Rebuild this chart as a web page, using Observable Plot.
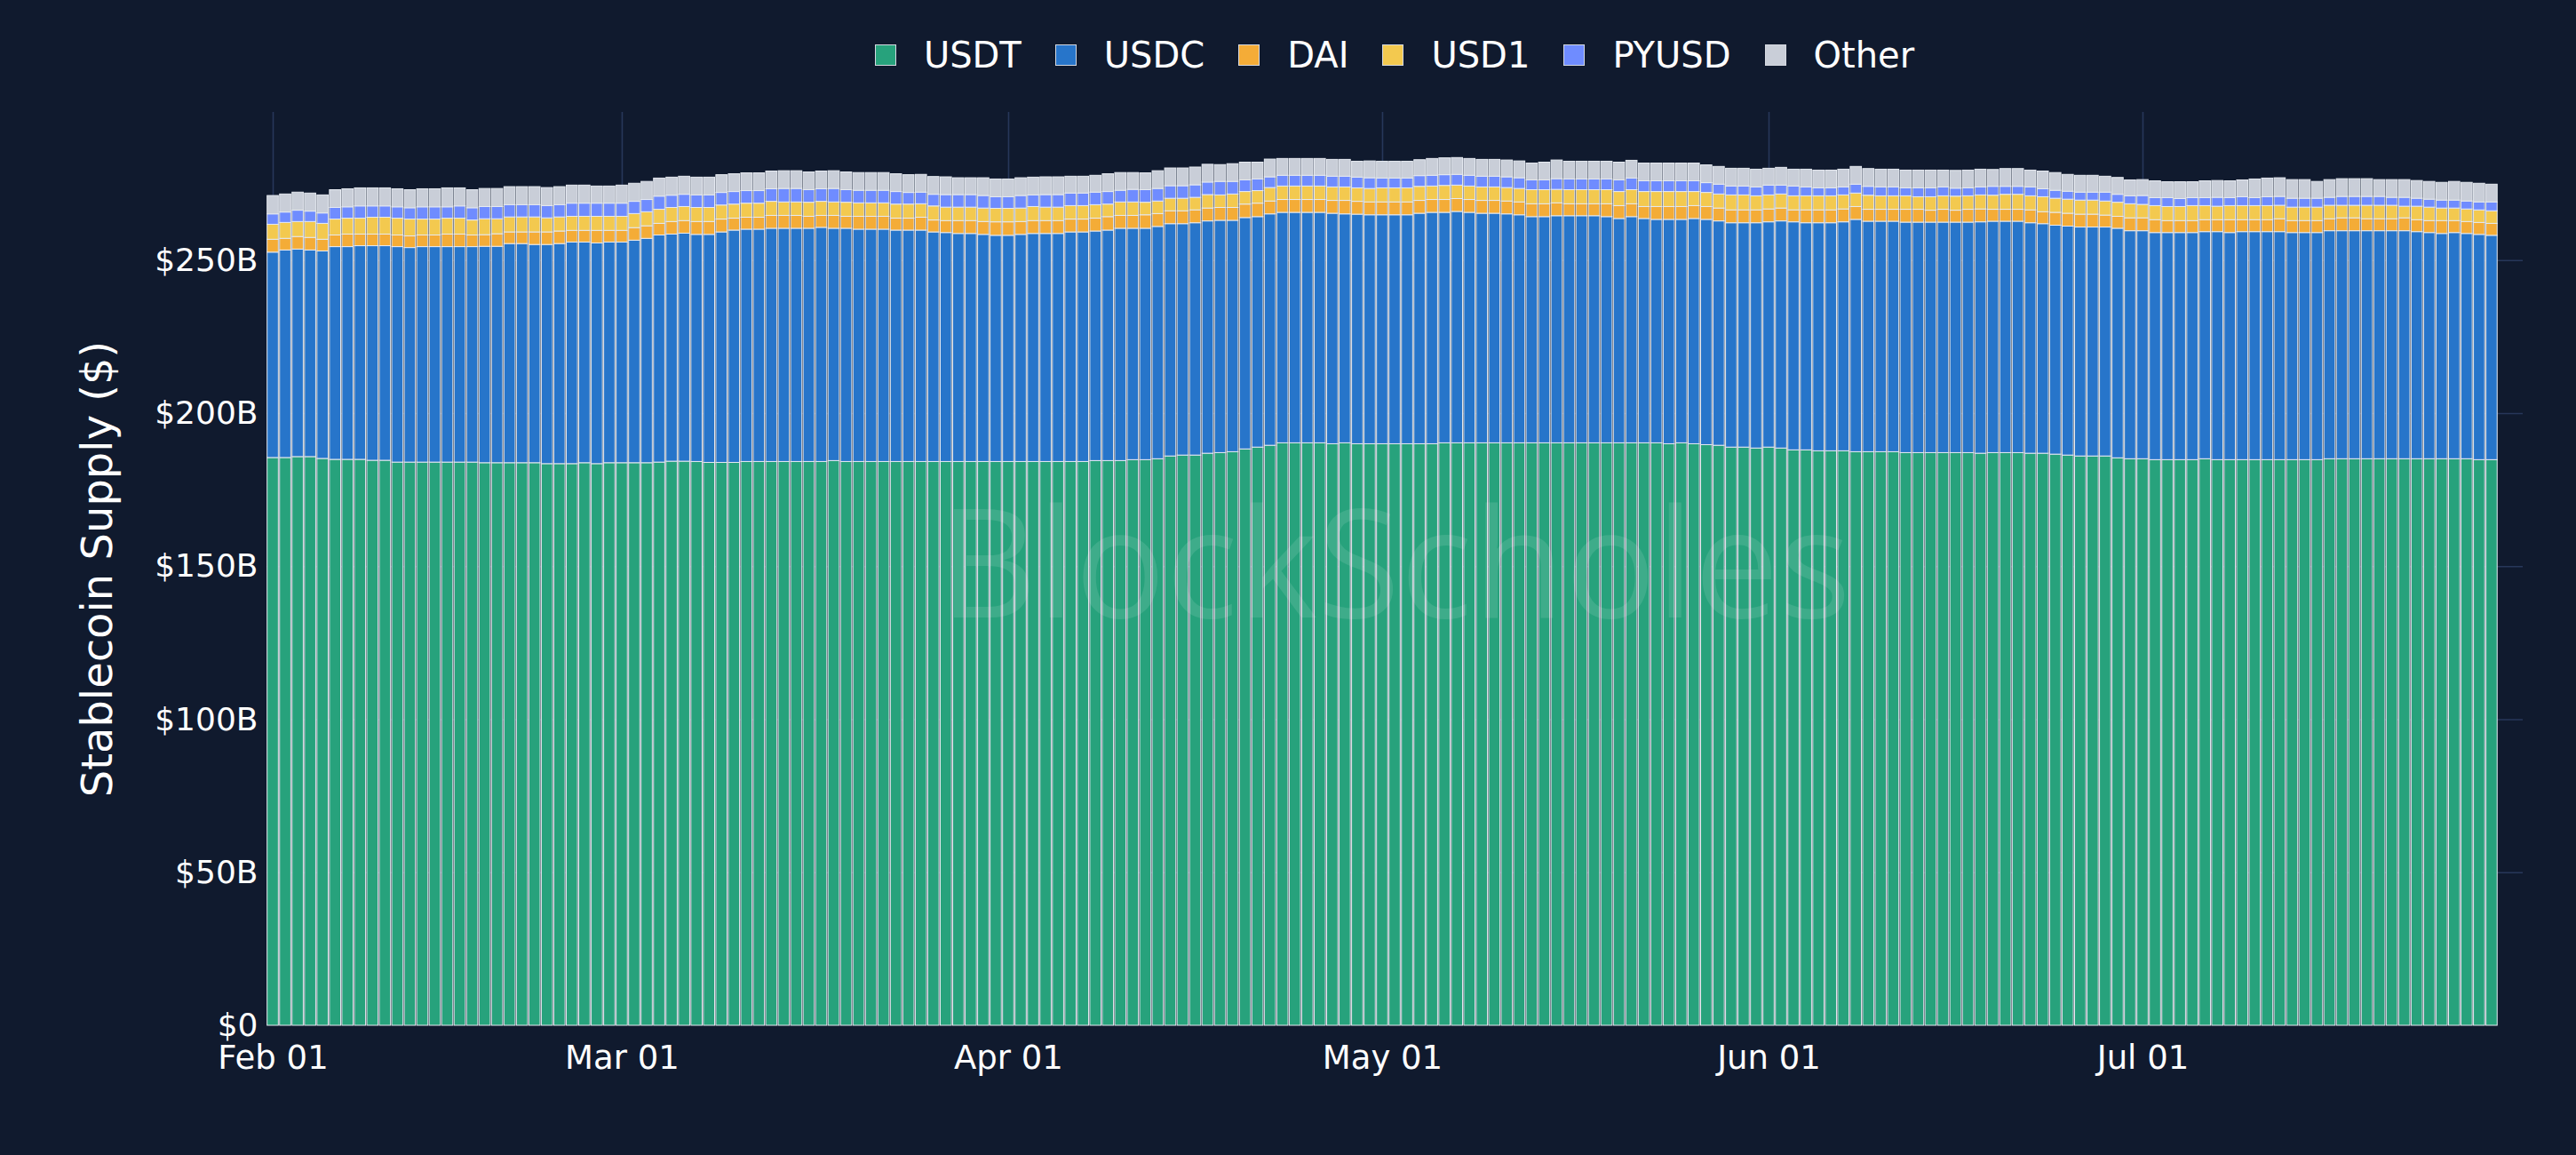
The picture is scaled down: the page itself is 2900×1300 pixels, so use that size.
<!DOCTYPE html>
<html>
<head>
<meta charset="utf-8">
<script src="https://cdn.jsdelivr.net/npm/d3@7"></script>
<script src="https://cdn.jsdelivr.net/npm/@observablehq/plot@0.6"></script>
<style>
  html, body { margin: 0; padding: 0; background: #101a2e; }
  #chart { position: relative; width: 2900px; height: 1300px; background: #101a2e; font-family: "DejaVu Sans", sans-serif; }
  #legend { position: absolute; left: 300px; top: 0; width: 2540px; height: 100px; padding-top: 24px; box-sizing: border-box;
            display: flex; justify-content: center; align-items: center; gap: 38px; }
  .item { display: flex; align-items: center; gap: 31px; color: #ffffff; font-size: 40px; line-height: 1; }
  .swatch { width: 22px; height: 22px; border: 1.5px solid #d5d9e1; }
  #plot { position: absolute; left: 0; top: 100px; }
</style>
</head>
<body>
<div id="chart">
  <div id="legend"></div>
  <div id="plot"></div>
</div>
<script>
// ---- data (billions of USD), one value per day, Feb 01 – Jul 29 2025 ----
const seriesNames = ["USDT", "USDC", "DAI", "USD1", "PYUSD", "Other"];
const seriesColors = ["#27a27c", "#2775ca", "#f4ac37", "#f3c94f", "#6f8cff", "#c9ced8"];
const startDay = "2025-02-01";
const endDayExclusive = "2025-07-30";

const usdt = [
185.5,185.5,185.8,185.8,185.2,184.9,184.9,184.9,184.6,184.6,
184.0,184.0,184.0,184.0,184.0,184.0,184.0,183.8,183.8,183.8,
183.8,183.8,183.5,183.5,183.5,183.8,183.5,183.8,183.8,183.8,
183.8,184.0,184.3,184.3,184.2,183.9,183.9,183.9,184.2,184.2,
184.2,184.2,184.2,184.2,184.2,184.5,184.2,184.2,184.2,184.2,
184.2,184.2,184.2,184.2,184.2,184.2,184.2,184.2,184.2,184.2,
184.2,184.2,184.2,184.2,184.2,184.2,184.5,184.5,184.5,184.8,
184.8,185.1,186.0,186.3,186.3,186.9,187.1,187.4,188.3,188.9,
189.5,190.3,190.3,190.3,190.3,190.0,190.3,190.0,190.0,190.0,
190.0,190.0,190.0,190.0,190.3,190.3,190.3,190.3,190.3,190.3,
190.3,190.3,190.3,190.3,190.3,190.3,190.3,190.3,190.3,190.3,
190.3,190.3,190.0,190.3,190.0,189.7,189.5,188.9,188.9,188.6,
188.9,188.6,188.0,188.0,187.7,187.7,187.7,187.4,187.4,187.4,
187.4,187.1,187.1,187.1,187.1,187.1,187.1,186.9,187.1,187.1,
187.1,186.9,186.9,186.6,186.3,186.0,186.0,186.0,185.4,185.1,
185.1,184.8,184.8,184.8,184.8,185.1,184.8,184.8,184.8,184.8,
184.8,184.8,184.8,184.8,184.8,185.1,185.1,185.1,185.1,185.1,
185.1,185.1,185.1,185.1,185.1,185.1,185.1,184.8,184.8];

const usdc = [
67.1,67.8,67.8,67.5,67.8,69.5,69.5,69.8,70.1,70.1,
70.4,70.1,70.4,70.4,70.4,70.4,70.4,70.7,70.7,71.6,
71.6,71.3,71.6,71.9,72.4,72.1,72.1,72.1,72.1,72.7,
73.3,74.2,74.2,74.5,74.2,74.5,75.3,75.9,75.9,75.9,
76.2,76.2,76.2,76.2,76.5,75.9,76.2,75.9,75.9,75.9,
75.6,75.6,75.6,75.0,74.8,74.5,74.5,74.2,73.9,73.9,
74.2,74.5,74.5,74.5,75.0,75.0,75.0,75.3,75.9,75.6,
75.6,75.9,75.9,75.6,75.9,75.9,75.9,75.6,75.6,75.3,
75.6,75.3,75.3,75.3,75.3,75.3,74.8,75.0,74.8,74.8,
74.8,74.8,75.3,75.6,75.3,75.6,75.3,75.0,75.0,74.8,
74.5,73.9,73.9,74.2,74.2,74.2,74.2,73.9,73.3,73.9,
73.3,73.0,73.3,73.0,73.6,73.6,73.3,73.3,73.3,73.6,
73.6,74.2,74.5,74.2,74.5,74.5,74.8,75.9,75.3,75.3,
75.3,75.3,75.3,75.3,75.3,75.3,75.3,75.6,75.6,75.6,
75.6,75.3,75.0,74.8,74.8,74.8,74.8,74.8,75.0,74.5,
74.5,74.2,74.2,74.2,74.2,74.2,74.5,74.2,74.5,74.5,
74.5,74.5,74.2,74.2,74.2,74.5,74.5,74.5,74.5,74.5,
74.5,74.5,74.2,73.9,73.6,73.9,73.6,73.6,73.3];

const dai = [
4.2,3.8,4.1,4.1,3.8,3.8,4.1,3.8,3.8,3.8,
3.8,3.8,3.8,3.8,4.1,4.1,3.8,3.8,4.1,3.8,
3.8,4.1,4.1,4.1,3.8,3.8,4.1,3.8,3.8,4.1,
4.1,3.8,4.1,4.1,4.2,4.2,4.2,3.9,3.9,3.9,
4.2,4.2,4.2,3.9,3.9,4.2,3.9,4.2,4.2,4.2,
3.9,3.9,4.2,3.9,3.9,4.2,4.2,4.2,4.4,4.4,
4.2,4.2,4.2,4.2,4.2,4.2,4.2,4.4,4.2,4.2,
4.4,4.2,4.2,4.2,4.2,4.2,4.2,4.2,4.4,4.4,
4.2,4.2,4.2,4.2,4.2,4.2,4.4,4.2,4.2,4.2,
4.2,4.2,4.2,4.2,4.2,4.2,4.2,4.2,4.2,4.2,
4.2,4.2,4.2,4.2,3.9,3.9,3.9,4.2,4.2,4.2,
3.9,4.2,4.2,4.2,4.2,4.2,4.2,4.2,4.2,4.2,
4.2,4.2,3.9,4.2,4.2,4.2,4.2,4.2,3.9,3.9,
3.9,4.2,4.2,3.9,4.2,3.9,4.2,4.2,3.9,3.9,
3.9,4.2,3.9,4.2,4.2,4.2,4.2,3.9,3.9,4.2,
4.2,4.2,3.9,3.9,3.9,3.9,3.9,4.2,3.9,3.9,
3.9,4.2,3.9,3.9,3.9,3.9,4.2,4.2,3.9,3.9,
3.9,4.2,3.9,3.9,4.2,3.9,3.9,3.9,3.9];

const usd1 = [
4.9,5.2,4.9,5.2,5.2,5.2,5.2,5.2,5.5,5.5,
5.5,5.5,5.2,5.2,5.2,5.2,4.9,5.2,4.9,4.9,
4.9,4.9,4.6,4.6,4.6,4.6,4.6,4.6,4.6,4.6,
4.6,4.6,4.6,4.6,4.6,4.6,4.6,4.6,4.6,4.6,
4.6,4.4,4.4,4.6,4.6,4.4,4.6,4.4,4.4,4.4,
4.6,4.6,4.4,4.6,4.4,4.4,4.4,4.4,4.4,4.4,
4.4,4.6,4.4,4.4,4.4,4.4,4.4,4.1,4.4,4.4,
4.1,4.1,4.1,4.1,4.1,4.4,4.1,4.4,4.1,4.1,
4.4,4.4,4.4,4.4,4.4,4.4,4.4,4.4,4.4,4.6,
4.6,4.6,4.6,4.4,4.6,4.4,4.4,4.4,4.4,4.4,
4.4,4.6,4.6,4.4,4.6,4.6,4.6,4.6,4.6,4.6,
4.9,4.9,4.9,4.9,4.6,4.6,4.6,4.9,4.9,4.6,
4.6,4.6,4.6,4.6,4.6,4.6,4.6,4.4,4.6,4.4,
4.4,4.4,4.1,4.4,4.4,4.6,4.4,4.6,4.6,4.9,
4.9,4.6,4.9,4.6,4.6,4.6,4.6,4.6,4.6,4.6,
4.4,4.6,4.6,4.6,4.9,4.6,4.4,4.6,4.6,4.6,
4.6,4.4,4.4,4.4,4.4,4.4,4.1,4.1,4.4,4.4,
4.4,3.8,4.4,4.4,4.1,4.1,4.1,4.1,4.1];

const pyusd = [
3.4,3.4,3.7,3.4,3.4,3.8,3.7,4.0,3.7,3.7,
3.7,3.7,4.0,4.0,3.7,4.0,4.0,4.0,4.0,4.0,
4.0,4.0,4.0,4.0,4.3,4.3,4.3,4.3,4.3,4.0,
4.0,4.3,4.0,4.0,4.1,4.1,4.1,4.1,4.1,4.1,
4.1,4.4,4.4,4.1,4.1,4.4,4.1,4.1,4.1,4.1,
4.1,3.8,3.8,3.8,4.1,4.1,4.1,4.1,3.8,3.8,
4.1,3.8,4.1,4.1,4.1,4.1,4.1,4.1,3.8,4.1,
4.1,4.1,4.1,4.1,4.1,4.1,4.4,4.1,3.8,3.8,
3.5,3.5,3.5,3.5,3.5,3.5,3.5,3.5,3.5,3.2,
3.2,3.2,3.5,3.5,3.5,3.5,3.5,3.5,3.5,3.5,
3.5,3.2,3.2,3.5,3.5,3.5,3.5,3.5,3.8,3.8,
3.5,3.5,3.5,3.5,3.5,3.2,3.2,2.9,2.9,2.9,
3.2,2.9,3.2,2.9,2.6,2.6,2.6,2.9,2.9,2.9,
2.9,2.6,2.9,2.9,2.9,2.6,2.6,2.6,2.9,2.6,
2.6,2.9,2.6,2.6,2.6,2.6,2.6,2.9,2.6,2.6,
2.9,2.6,2.9,2.6,2.6,2.6,2.9,2.6,2.9,2.6,
2.9,2.9,2.9,2.9,2.9,2.6,2.9,2.9,2.9,2.9,
2.6,2.9,2.6,2.6,2.6,2.6,2.6,2.6,2.9];

const other = [
6.0,5.9,5.9,5.9,5.9,5.8,5.9,5.9,5.9,5.9,
5.9,5.9,5.9,5.9,6.2,5.9,5.9,5.9,5.9,5.9,
5.9,5.9,5.9,5.9,5.9,5.9,5.6,5.6,5.9,5.9,
5.9,5.9,5.9,5.9,5.8,5.8,5.8,5.8,5.8,5.8,
5.8,5.8,5.8,5.8,5.8,5.8,5.8,5.8,5.8,5.8,
5.8,5.8,5.8,5.8,5.8,5.5,5.5,5.8,5.8,5.8,
5.8,5.8,5.8,5.8,5.5,5.5,5.5,5.8,5.8,5.5,
5.5,5.8,5.8,5.8,5.8,5.8,5.5,5.8,5.8,5.5,
5.8,5.5,5.5,5.5,5.5,5.5,5.5,5.2,5.5,5.5,
5.5,5.5,5.2,5.5,5.5,5.5,5.5,5.5,5.5,5.5,
5.5,5.5,5.8,6.1,5.8,5.8,5.8,5.8,5.8,5.8,
5.8,5.8,5.8,5.8,5.8,5.8,5.8,5.8,5.8,5.8,
5.5,5.8,5.5,5.8,5.8,5.8,5.8,5.8,5.8,5.8,
5.8,5.8,5.8,5.8,5.5,5.8,5.8,5.8,5.5,5.8,
5.8,5.5,5.8,5.8,5.5,5.5,5.5,5.2,5.5,5.2,
5.2,5.5,5.2,5.5,5.2,5.5,5.5,5.5,5.5,6.1,
6.1,6.1,6.1,6.1,5.5,5.8,5.8,5.8,5.8,5.5,
5.8,5.8,5.8,5.8,5.8,6.1,6.1,6.1,5.8];

const yTicks = [0, 50, 100, 150, 200, 250];
const yTickLabels = ["$0", "$50B", "$100B", "$150B", "$200B", "$250B"];
const xTickDays = ["2025-02-01", "2025-03-01", "2025-04-01", "2025-05-01", "2025-06-01", "2025-07-01"];
const xTickLabels = ["Feb 01", "Mar 01", "Apr 01", "May 01", "Jun 01", "Jul 01"];
const yTitle = "Stablecoin Supply ($)";
const watermark = "BlockScholes";

// ---- build stacked table ----
const seriesValues = [usdt, usdc, dai, usd1, pyusd, other];
const days = d3.utcDay.range(new Date(startDay), new Date(endDayExclusive));
const half = 12 * 3600 * 1000;
const rows = [];
days.forEach((day, i) => {
  let base = 0;
  seriesNames.forEach((name, s) => {
    const v = seriesValues[s][i];
    rows.push({date: day, series: name, value: v, y1: base, y2: base + v});
    base += v;
  });
});
const xTickDates = xTickDays.map(d => new Date(d));
const gridColor = "#27375a";

// ---- legend ----
const legend = document.getElementById("legend");
seriesNames.forEach((name, i) => {
  const item = document.createElement("div");
  item.className = "item";
  const sw = document.createElement("div");
  sw.className = "swatch";
  sw.style.background = seriesColors[i];
  const label = document.createElement("span");
  label.textContent = name;
  item.appendChild(sw);
  item.appendChild(label);
  legend.appendChild(item);
});

// ---- plot ----
const chart = Plot.plot({
  width: 2900,
  height: 1200,
  marginTop: 26,
  marginBottom: 146,
  marginLeft: 300,
  marginRight: 60,
  style: {background: "transparent", color: "#ffffff", fontFamily: "DejaVu Sans, sans-serif", overflow: "visible"},
  x: {type: "utc", domain: [new Date(+new Date(startDay) - half), new Date(+new Date("2025-07-31") + half)]},
  y: {domain: [0, 298.4]},
  color: {domain: seriesNames, range: seriesColors},
  marks: [
    Plot.gridY(yTicks.slice(1), {stroke: gridColor, strokeOpacity: 1, strokeWidth: 1.6}),
    Plot.gridX(xTickDates, {stroke: gridColor, strokeOpacity: 1, strokeWidth: 1.6}),
    Plot.rect(rows, {
      x1: d => new Date(+d.date - half),
      x2: d => new Date(+d.date + half),
      y1: "y1",
      y2: "y2",
      fill: "series",
      stroke: "#e6eaf1",
      strokeWidth: 1,
      insetLeft: 0.7,
      insetRight: 0.7
    }),
    Plot.text([watermark], {frameAnchor: "middle", fontSize: 170, fontFamily: "Open Sans, DejaVu Sans, sans-serif", fontWeight: "normal", fill: "#ffffff", fillOpacity: 0.11}),
    Plot.axisY(yTicks, {tickFormat: d => yTickLabels[yTicks.indexOf(d)], tickSize: 0, tickPadding: 10, fontSize: 36, label: null}),
    Plot.axisX(xTickDates, {tickFormat: d => xTickLabels[xTickDates.findIndex(t => +t === +d)], tickSize: 0, tickPadding: 22, fontSize: 37, label: null}),
    Plot.text([yTitle], {frameAnchor: "left", rotate: -90, dx: -190, fontSize: 48, fill: "#ffffff", textAnchor: "middle"})
  ]
});
document.getElementById("plot").appendChild(chart);
</script>
</body>
</html>
